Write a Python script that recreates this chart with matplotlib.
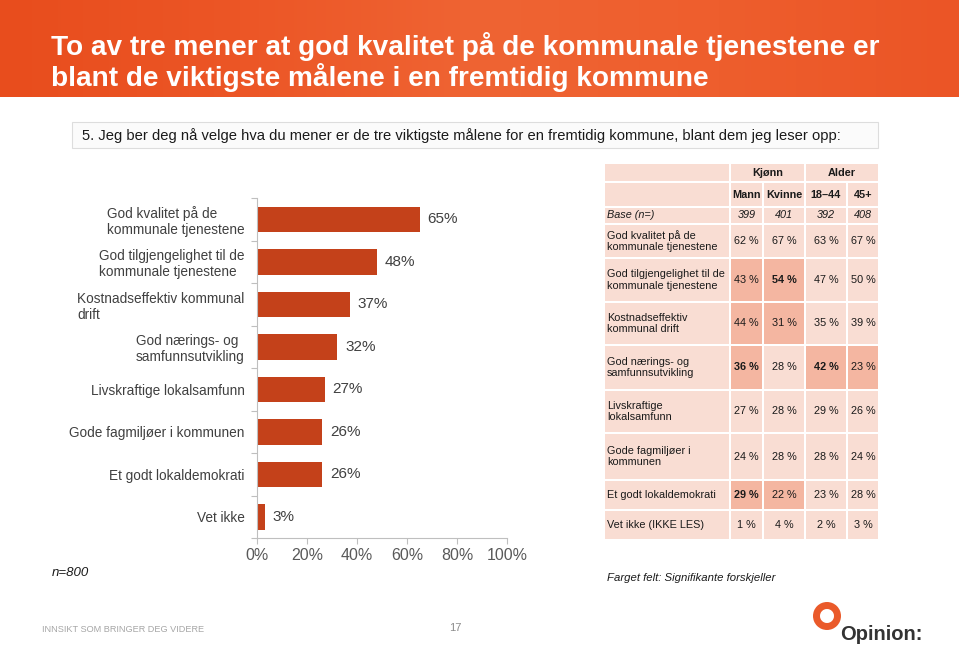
import matplotlib
matplotlib.use("Agg")
import matplotlib.pyplot as plt
import numpy as np
from matplotlib.patches import Rectangle, Wedge
from matplotlib.ticker import PercentFormatter, FixedLocator

# ---------------- data ----------------
title = "To av tre mener at god kvalitet på de kommunale tjenestene er\nblant de viktigste målene i en fremtidig kommune"
question = "5. Jeg ber deg nå velge hva du mener er de tre viktigste målene for en fremtidig kommune, blant dem jeg leser opp:"

categories = [
    "God kvalitet på de\nkommunale tjenestene",
    "God tilgjengelighet til de\nkommunale tjenestene",
    "Kostnadseffektiv kommunal\ndrift",
    "God nærings- og\nsamfunnsutvikling",
    "Livskraftige lokalsamfunn",
    "Gode fagmiljøer i kommunen",
    "Et godt lokaldemokrati",
    "Vet ikke",
]
values = [65, 48, 37, 32, 27, 26, 26, 3]
x_ticks = [0, 20, 40, 60, 80, 100]

table_rows = [
    "God kvalitet på de\nkommunale tjenestene",
    "God tilgjengelighet til de\nkommunale tjenestene",
    "Kostnadseffektiv\nkommunal drift",
    "God nærings- og\nsamfunnsutvikling",
    "Livskraftige\nlokalsamfunn",
    "Gode fagmiljøer i\nkommunen",
    "Et godt lokaldemokrati",
    "Vet ikke (IKKE LES)",
]
group_headers = ["Kjønn", "Alder"]
col_headers = ["Mann", "Kvinne", "18–44", "45+"]
base_n = [399, 401, 392, 408]
mann = [62, 43, 44, 36, 27, 24, 29, 1]
kvinne = [67, 54, 31, 28, 28, 28, 22, 4]
age_18_44 = [63, 47, 35, 42, 29, 28, 23, 2]
age_45 = [67, 50, 39, 23, 26, 24, 28, 3]
# significant cells (row, col) and bold ones
significant = [(1, 0), (1, 1), (2, 0), (2, 1), (3, 0), (3, 2), (3, 3), (6, 0), (6, 1)]
bold_cells = [(1, 1), (3, 0), (3, 2), (6, 0)]
n_total = "n=800"
table_note = "Farget felt: Signifikante forskjeller"
footer_left = "INNSIKT SOM BRINGER DEG VIDERE"
page_no = "17"

# ---------------- figure ----------------
W, H = 959, 647
fig = plt.figure(figsize=(W / 100, H / 100), dpi=100)
fig.patch.set_facecolor("white")
plt.rcParams['font.family'] = ['Liberation Sans', 'DejaVu Sans']

bg = fig.add_axes([0, 0, 1, 1])
bg.set_zorder(0)

# header band with subtle gradient
grad = np.linspace(0, 1, 300)
cmap = matplotlib.colors.LinearSegmentedColormap.from_list(
    "hdr", ["#E84D1D", "#EC5626", "#EF6433", "#EE5E2D", "#EB5526"])
bg.imshow(grad[None, :], extent=[0, W, 97, 0], cmap=cmap, aspect="auto", zorder=0)
bg.set_xlim(0, W)
bg.set_ylim(H, 0)
bg.axis("off")
bg.text(51, 62, title, color="white", fontsize=20.2, fontweight="bold",
        va="center", ha="left", linespacing=1.12)

# question box
bg.add_patch(Rectangle((72, 122), 806, 26, facecolor="#FBFBFB", edgecolor="#DDDDDD", lw=0.8))
bg.text(82, 135.5, question, fontsize=10.6, va="center", ha="left", color="#1A1A1A")

# ---------------- bar chart ----------------
ax_left, ax_right = 257, 507
ax_top, ax_bot = 198, 538
ax = fig.add_axes([ax_left / W, 1 - ax_bot / H, (ax_right - ax_left) / W, (ax_bot - ax_top) / H])
ax.patch.set_alpha(0)
ypos = np.arange(len(categories))
bar_color = "#C4411A"
ax.barh(ypos, values, height=0.6, color=bar_color)
ax.set_xlim(0, 100)
ax.set_ylim(len(categories) - 0.5, -0.5)
ax.xaxis.set_major_locator(FixedLocator(x_ticks))
ax.xaxis.set_major_formatter(PercentFormatter(decimals=0))
ax.set_yticks(ypos)
ax.set_yticklabels(categories, multialignment="left")
ax.set_yticks(np.arange(-0.5, len(categories)), minor=True)
ax.tick_params(axis="y", which="major", length=0, pad=9, labelsize=9.8, labelcolor="#404040")
ax.tick_params(axis="y", which="minor", length=4, color="#BFBFBF", width=0.8)
ax.tick_params(axis="x", length=4, color="#BFBFBF", width=0.8, labelsize=11.5,
               labelcolor="#595959", pad=3)
for s in ["top", "right"]:
    ax.spines[s].set_visible(False)
for s in ["left", "bottom"]:
    ax.spines[s].set_color("#BFBFBF")
    ax.spines[s].set_linewidth(0.8)
for y, v in zip(ypos, values):
    ax.text(v + 3.2, y, f"{v}%", va="center", ha="left", fontsize=11, color="#404040")

bg.text(52, 573, n_total, fontsize=9.5, style="italic", va="center", ha="left", color="#1A1A1A")

# ---------------- table ----------------
col_x = [604, 730, 763, 805, 847, 879]
row_y = [163, 182, 207, 224, 258, 302, 345, 390, 433, 480, 510, 540]
cell_color = "#F9DDD3"
hl_color = "#F4B6A1"
gap = 1.0
txt = "#1A1A1A"
fs = 7.8

def cell(x0, x1, y0, y1, color):
    bg.add_patch(Rectangle((x0 + gap, y0 + gap), x1 - x0 - 2 * gap, y1 - y0 - 2 * gap,
                           facecolor=color, edgecolor="none", zorder=1))

# header row 1
cell(col_x[0], col_x[1], row_y[0], row_y[1], cell_color)
cell(col_x[1], col_x[3], row_y[0], row_y[1], cell_color)
cell(col_x[3], col_x[5], row_y[0], row_y[1], cell_color)
bg.text((col_x[1] + col_x[3]) / 2, (row_y[0] + row_y[1]) / 2, group_headers[0], ha="center", va="center",
        fontsize=fs, fontweight="bold", color=txt, zorder=3)
bg.text((col_x[3] + col_x[5]) / 2, (row_y[0] + row_y[1]) / 2, group_headers[1], ha="center", va="center",
        fontsize=fs, fontweight="bold", color=txt, zorder=3)
# header row 2
cell(col_x[0], col_x[1], row_y[1], row_y[2], cell_color)
for j, h in enumerate(col_headers):
    cell(col_x[j + 1], col_x[j + 2], row_y[1], row_y[2], cell_color)
    bg.text((col_x[j + 1] + col_x[j + 2]) / 2, (row_y[1] + row_y[2]) / 2, h, ha="center", va="center",
            fontsize=fs, fontweight="bold", color=txt, zorder=3)
# base row
cell(col_x[0], col_x[1], row_y[2], row_y[3], cell_color)
bg.text(col_x[0] + 3, (row_y[2] + row_y[3]) / 2, "Base (n=)", ha="left", va="center",
        fontsize=fs, style="italic", color=txt, zorder=3)
for j, n in enumerate(base_n):
    cell(col_x[j + 1], col_x[j + 2], row_y[2], row_y[3], cell_color)
    bg.text((col_x[j + 1] + col_x[j + 2]) / 2, (row_y[2] + row_y[3]) / 2, str(n), ha="center", va="center",
            fontsize=fs, style="italic", color=txt, zorder=3)
# data rows
cols = [mann, kvinne, age_18_44, age_45]
for i, lab in enumerate(table_rows):
    y0, y1 = row_y[i + 3], row_y[i + 4]
    yc = (y0 + y1) / 2
    cell(col_x[0], col_x[1], y0, y1, cell_color)
    bg.text(col_x[0] + 3, yc, lab, ha="left", va="center", fontsize=fs, color=txt,
            linespacing=1.15, zorder=3)
    for j, c in enumerate(cols):
        color = hl_color if (i, j) in significant else cell_color
        cell(col_x[j + 1], col_x[j + 2], y0, y1, color)
        bg.text((col_x[j + 1] + col_x[j + 2]) / 2, yc, f"{c[i]} %", ha="center", va="center",
                fontsize=fs, color=txt, zorder=3,
                fontweight="bold" if (i, j) in bold_cells else "normal")

bg.text(607, 578, table_note, fontsize=8.2, style="italic", ha="left", va="center", color=txt)

# ---------------- footer ----------------
bg.text(42, 629, footer_left, fontsize=6.6, color="#A6A6A6", ha="left", va="center")
bg.text(455, 628, page_no, fontsize=8, color="#8C8C8C", ha="center", va="center")
bg.add_patch(Wedge((827, 616), 14, 0, 360, width=7, facecolor="#EA5A2A", edgecolor="none", zorder=3))
bg.text(840, 634, "Opinion:", fontsize=14.5, fontweight="bold", color="#333333", ha="left", va="center")

fig.savefig("out.png", dpi=100)
